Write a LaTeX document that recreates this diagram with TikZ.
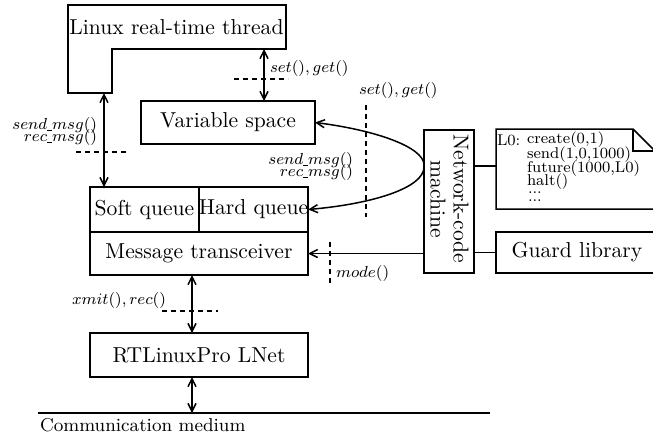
\documentclass[tikz,border=0pt]{standalone}
\usetikzlibrary{arrows.meta}
\newcommand{\uscore}{\mbox{\rule[-0.2ex]{0.3em}{0.4pt}}}
\begin{document}
\begin{tikzpicture}[x=0.5pt,y=-0.5pt,
  line width=0.75pt,
  >={Straight Barb[length=4pt,width=4pt]},
  mainfont/.style={font=\fontsize{10.8}{13}\selectfont},
  labfont/.style={font=\fontsize{8.3}{10}\selectfont},
  notefont/.style={font=\fontsize{7.8}{8}\selectfont},
  box/.style={draw,mainfont,inner sep=0pt,outer sep=0pt},
  txt/.style={inner sep=0pt,outer sep=0pt},
  dsh/.style={dash pattern=on 2.5pt off 2pt, line width=0.6pt}]
\useasboundingbox (0,0) rectangle (653,434);
\clip (0,0) rectangle (653,434);

% Linux real-time thread (L-shaped outline)
\draw (68,5) -- (286,5) -- (286,49) -- (112,49) -- (112,93) -- (68,93) -- cycle;
\node[txt,mainfont] (lrt) at (176.5,27) {Linux real-time thread};
\coordinate (lrtA) at (104,93);
\coordinate (lrtB) at (264,49);

% boxes
\node[box,minimum width=87pt,minimum height=21.5pt] (vs) at (228,122.5) {Variable space};
\node[box,minimum width=54.5pt,minimum height=22.5pt] (soft) at (144.5,209.5) {Soft queue};
\node[box,minimum width=54.5pt,minimum height=22.5pt] (hard) at (253.5,209.5) {Hard queue};
\node[box,minimum width=109pt,minimum height=21.5pt] (trx) at (199,253.5) {Message transceiver};
\node[box,minimum width=109pt,minimum height=22pt] (lnet) at (199,355) {RTLinuxPro LNet};
\node[box,minimum width=25pt,minimum height=71.5pt] (ncm) at (449,201.5) {};
\node[txt,mainfont,rotate=-90] (ncm1) at (461,199) {Network-code};
\node[txt,mainfont,rotate=-90] (ncm2) at (438,199) {machine};
\node[box,minimum width=81pt,minimum height=20.5pt] (guard) at (577,252.5) {Guard library};

% program listing note with folded corner
\node[minimum width=80pt,minimum height=40pt,inner sep=0pt,outer sep=0pt] (note) at (576,169) {};
\draw (note.south west) -- (note.north west) -- (633,129) -- (655,151) -- (note.south east -| 655,0) -- cycle;
\draw (633,129) -- (633,151) -- (655,151);
\coordinate (noteW) at (496,166);
\node[txt,notefont,anchor=west] (l0) at (497,140) {L0:};
\node[txt,notefont,anchor=west] (p1) at (527,140) {create(0,1)};
\node[txt,notefont,anchor=west] (p2) at (527,155) {send(1,0,1000)};
\node[txt,notefont,anchor=west] (p3) at (527,169) {future(1000,L0)};
\node[txt,notefont,anchor=west] (p4) at (527,182) {halt()};
\node[txt,notefont,anchor=west] (p5) at (528,193) {...};
\node[txt,notefont,anchor=west] (p6) at (528,201) {...};

% communication medium
\coordinate (medL) at (38,413);
\coordinate (medR) at (490,413);
\draw (medL) -- (medR);
\node[txt,font=\fontsize{9.3}{11}\selectfont,anchor=west] (medlab) at (40,425) {Communication medium};

% connectors
\draw[<->] (lrtB) -- (lrtB |- vs.north);
\draw[<->] (lrtA) -- (lrtA |- soft.north);
\draw[<->] ([xshift=-3.5pt]trx.south) -- ([xshift=-3.5pt]lnet.north);
\draw[<->] ([xshift=-3.5pt]lnet.south) -- ([xshift=-3.5pt]lnet.south |- medL);
\coordinate (ncA) at (424,165);
\coordinate (ncB) at (424,167);
\draw[->] (ncA) .. controls (424,147) and (375,130) .. (vs.east);
\draw[->] (ncB) .. controls (424,188) and (372,204) .. (hard.east);
\draw[->] (ncm.west |- trx.east) -- (trx.east);
\draw (ncm.east |- guard.west) -- (guard.west);
\draw (ncm.east |- noteW) -- (noteW);

% interface boundaries
\draw[dsh] (234,79) -- (288,79);
\draw[dsh] (76,152) -- (128,152);
\draw[dsh] (162,311) -- (218,311);
\draw[dsh] (366,105) -- (366,217);
\draw[dsh] (330,242) -- (330,285);

% interface labels
\node[txt,labfont,anchor=west] (sg1) at (270,68) {$set(), get()$};
\node[txt,labfont,anchor=west] (sg2) at (359,90) {$set(), get()$};
\node[txt,labfont,anchor=east] (sm1) at (97,125) {$send\uscore msg()$};
\node[txt,labfont,anchor=east] (rm1) at (97,137) {$rec\uscore msg()$};
\node[txt,labfont,anchor=east] (sm2) at (353,160) {$send\uscore msg()$};
\node[txt,labfont,anchor=east] (rm2) at (353,172) {$rec\uscore msg()$};
\node[txt,labfont,anchor=west] (xr) at (72,300) {$xmit(), rec()$};
\node[txt,labfont,anchor=west] (md) at (336,273) {$mode()$};
\end{tikzpicture}
\end{document}
